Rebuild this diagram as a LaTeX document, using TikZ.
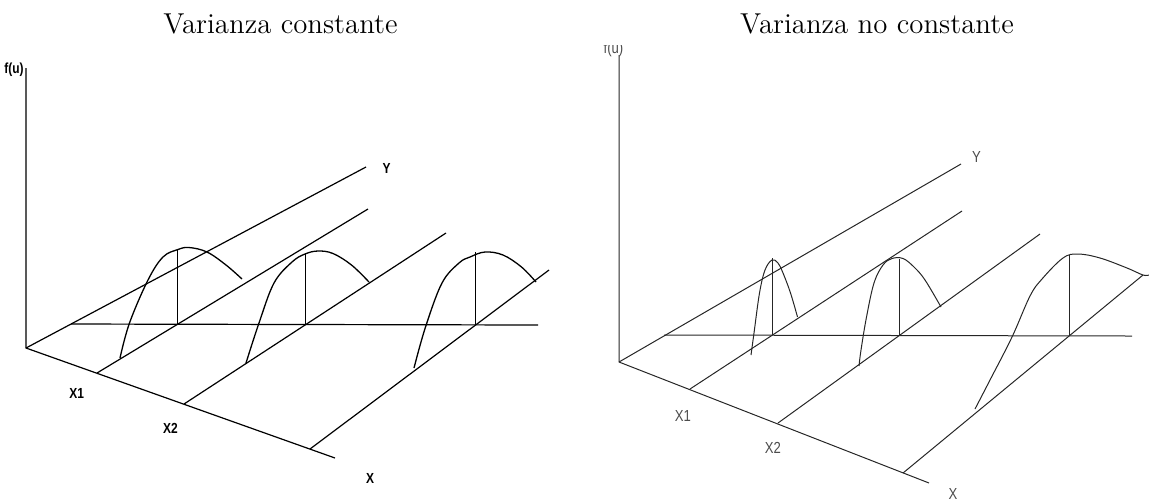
\documentclass[tikz,border=0pt]{standalone}
\usepackage{fontspec}
\newfontfamily\labfont[FakeStretch=0.82]{Liberation Sans}
\usetikzlibrary{calc}
\begin{document}
\begin{tikzpicture}[x=0.5pt,y=-0.5pt,
  lineL/.style={line width=0.6pt,black},
  curveL/.style={line width=0.65pt,black},
  lineR/.style={line width=0.5pt,black!85},
  curveR/.style={line width=0.5pt,black!85},
  title/.style={inner sep=0pt,font=\fontsize{14.4}{17}\selectfont},
  lblL/.style={inner sep=0pt,font=\labfont\bfseries\fontsize{7.3}{8}\selectfont},
  lblR/.style={inner sep=0pt,text=black!70,font=\labfont\fontsize{8}{9}\selectfont}]
\useasboundingbox (0,0) rectangle (1149,500);

% titles
\node[title] (t1title) at (280.5,24) {Varianza constante};
\node[title] (t2title) at (877,24) {Varianza no constante};

% ---------------- left panel ----------------
\coordinate (O) at (26,348);
\coordinate (Ftop) at (26,68);
\coordinate (Xend) at (335,458);
\coordinate (t1) at (97,373);
\coordinate (t2) at (184,404);
\coordinate (t3) at (310,449);
\coordinate (b0) at (366,167);
\coordinate (b1) at (368,209);
\coordinate (b2) at (446,233);
\coordinate (b3) at (549,270);
\coordinate (h0) at (71,324);
\coordinate (h1) at (538,325);
\coordinate (f1) at (intersection of h0--h1 and t1--b1);
\coordinate (f2) at (intersection of h0--h1 and t2--b2);
\coordinate (f3) at (intersection of h0--h1 and t3--b3);
\coordinate (v1) at ($(f1)+(0,-75)$);
\coordinate (v2) at ($(f2)+(0,-71)$);
\coordinate (v3) at ($(f3)+(0,-73)$);

\draw[lineL] (Ftop) -- (O) -- (Xend);
\draw[lineL] (O) -- (b0);
\draw[lineL] (t1) -- (b1);
\draw[lineL] (t2) -- (b2);
\draw[lineL] (t3) -- (b3);
\draw[lineL] (h0) -- (h1);
\draw[lineL] (f1) -- (v1);
\draw[lineL] (f2) -- (v2);
\draw[lineL] (f3) -- (v3);

\draw[curveL] plot[smooth,tension=0.6] coordinates {(120,358) (129.5,323) (148,280) (163,257) (178,249.5) (189,247.5) (207,252) (226,265) (242,279)};
\draw[curveL] plot[smooth,tension=0.6] coordinates {(246,363) (259,323) (274,283) (292,262) (305,254) (318,251) (333,253.5) (351.5,265) (369,282)};
\draw[curveL] plot[smooth,tension=0.6] coordinates {(414,368) (425.5,327) (442,283) (459,263) (470,257) (485,252) (503,255) (521.5,267) (536,282)};

\node[lblL] (lfu) at (14,70) {f(u)};
\node[lblL] (lY) at (386.5,168) {Y};
\node[lblL] (lX1) at (76.7,393) {X1};
\node[lblL] (lX2) at (170.5,428.5) {X2};
\node[lblL] (lX) at (370,478) {X};

% ---------------- right panel ----------------
\coordinate (P) at (619,362);
\coordinate (Gtop) at (619,55);
\coordinate (Yend) at (929,483);
\coordinate (u1) at (690,389);
\coordinate (u2) at (778,423);
\coordinate (u3) at (903,473);
\coordinate (c0) at (961,164);
\coordinate (c1) at (962,211);
\coordinate (c2) at (1040,234);
\coordinate (c3) at (1143,275);
\coordinate (g0) at (664,335);
\coordinate (g1) at (1132,336);
\coordinate (e1) at (intersection of g0--g1 and u1--c1);
\coordinate (e2) at (intersection of g0--g1 and u2--c2);
\coordinate (e3) at (intersection of g0--g1 and u3--c3);
\coordinate (w1) at ($(e1)+(0,-77)$);
\coordinate (w2) at ($(e2)+(0,-77)$);
\coordinate (w3) at ($(e3)+(0,-81)$);

\draw[lineR] (Gtop) -- (P) -- (Yend);
\draw[lineR] (P) -- (c0);
\draw[lineR] (u1) -- (c1);
\draw[lineR] (u2) -- (c2);
\draw[lineR] (u3) -- (c3);
\draw[lineR] (g0) -- (g1);
\draw[lineR] (e1) -- (w1);
\draw[lineR] (e2) -- (w2);
\draw[lineR] (e3) -- (w3);

\draw[curveR] plot[smooth,tension=0.6] coordinates {(751,355) (754,333) (759.5,293) (765,270) (772,260) (778,263) (783,273) (790.5,293) (797.5,317)};
\draw[curveR] plot[smooth,tension=0.6] coordinates {(859,366) (861,350) (866.5,317) (874,283) (883,265) (892,258.5) (903,258.5) (914,267) (925,280) (941,307)};
\draw[curveR] plot[smooth,tension=0.6] coordinates {(975,409) (990,380) (1012,337) (1030,296) (1042,279) (1063,258) (1078,254) (1100,258) (1127,268) (1143,275) (1149,275)};

\begin{scope}
  \clip (580,45) rectangle (660,70);
  \node[lblR,anchor=base] (rfu) at (613.5,53) {f(u)};
\end{scope}
\node[lblR] (rY) at (976.5,156.7) {Y};
\node[lblR] (rX1) at (683,415.5) {X1};
\node[lblR] (rX2) at (773,448) {X2};
\node[lblR] (rX) at (953,494) {X};
\end{tikzpicture}
\end{document}
